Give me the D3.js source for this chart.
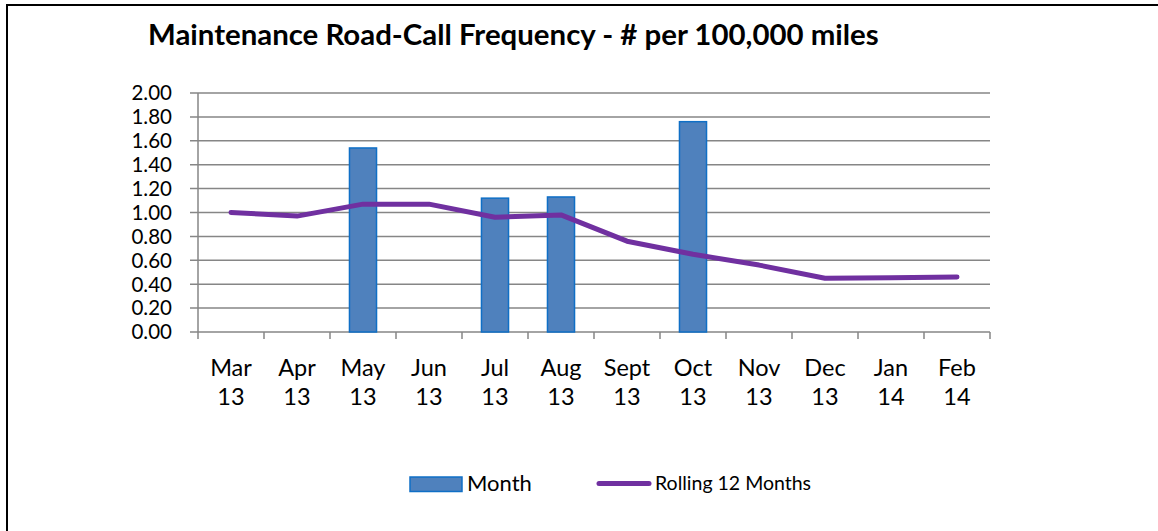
<!DOCTYPE html>
<html>
<head>
<meta charset="utf-8">
<script src="https://cdnjs.cloudflare.com/ajax/libs/d3/7.8.5/d3.min.js"></script>
<style>
  body { margin: 0; background: #fff; }
  svg { display: block; font-family: Lato, "Liberation Sans", sans-serif; }
</style>
</head>
<body>
<svg id="chart"></svg>
<script>
const width = 1158, height = 531;

const months = ['Mar', 'Apr', 'May', 'Jun', 'Jul', 'Aug', 'Sept', 'Oct', 'Nov', 'Dec', 'Jan', 'Feb'];
const years = ['13', '13', '13', '13', '13', '13', '13', '13', '13', '13', '14', '14'];
// null = no bar drawn for that month
const monthValues = [null, null, 1.54, null, 1.12, 1.13, null, 1.76, null, null, null, null];
const rollingValues = [1.00, 0.97, 1.07, 1.07, 0.96, 0.98, 0.76, 0.65, 0.56, 0.45, 0.455, 0.46];
const yTicks = [0, 0.2, 0.4, 0.6, 0.8, 1.0, 1.2, 1.4, 1.6, 1.8, 2.0];

const titleText = 'Maintenance Road-Call Frequency - # per 100,000 miles';

const barColor = '#4f81bd', barStroke = '#0f6fc6', lineColor = '#7030a0', gridColor = '#868686';

let svg = d3.select('#chart')
    .attr('width', width)
    .attr('height', height);

// outer frame (right and bottom fall off the picture)
svg.append('rect')
    .attr('x', 7).attr('y', 5)
    .attr('width', width + 20).attr('height', height + 20)
    .attr('fill', 'none')
    .attr('stroke', '#000')
    .attr('stroke-width', 2);

const plot = {left: 198, right: 990, top: 93, bottom: 332};

const x = d3.scaleBand()
    .domain(d3.range(months.length))
    .range([plot.left, plot.right]);

const y = d3.scaleLinear()
    .domain([0, 2])
    .range([plot.bottom, plot.top]);

// title, fit to its width in the reference
let title = svg.append('text')
    .attr('x', 148).attr('y', 45)
    .attr('font-weight', 'bold')
    .attr('font-size', 25)
    .attr('fill', '#000')
    .text(titleText);
let tw = title.node().getComputedTextLength();
title.attr('font-size', 25 * 731 / tw);

// horizontal gridlines
svg.append('g')
    .selectAll('line')
    .data(yTicks)
    .enter()
    .append('line')
        .attr('x1', plot.left - 8)
        .attr('x2', plot.right)
        .attr('y1', d => y(d))
        .attr('y2', d => y(d))
        .attr('stroke', gridColor)
        .attr('stroke-width', 1.5);

// y axis labels
svg.append('g')
    .selectAll('text')
    .data(yTicks)
    .enter()
    .append('text')
        .attr('x', 172)
        .attr('y', d => y(d))
        .attr('dy', '0.36em')
        .attr('text-anchor', 'end')
        .attr('font-size', 20.5)
        .attr('fill', '#000')
        .text(d => d.toFixed(2));

// y axis line
svg.append('line')
    .attr('x1', plot.left).attr('x2', plot.left)
    .attr('y1', plot.top).attr('y2', plot.bottom)
    .attr('stroke', gridColor).attr('stroke-width', 1.5);

// x tick marks at category boundaries
let boundaries = d3.range(months.length + 1).map(i => i < months.length ? x(i) : x(i - 1) + x.bandwidth());
svg.append('g')
    .selectAll('line')
    .data(boundaries)
    .enter()
    .append('line')
        .attr('x1', d => d).attr('x2', d => d)
        .attr('y1', plot.bottom).attr('y2', plot.bottom + 7)
        .attr('stroke', gridColor)
        .attr('stroke-width', 1.5);

// x labels
let xl = svg.append('g')
    .selectAll('text')
    .data(months)
    .enter()
    .append('text')
        .attr('text-anchor', 'middle')
        .attr('font-size', 23.5)
        .attr('fill', '#000');
xl.append('tspan')
    .attr('x', (d, i) => x(i) + x.bandwidth() / 2)
    .attr('y', 376)
    .text(d => d);
xl.append('tspan')
    .attr('x', (d, i) => x(i) + x.bandwidth() / 2)
    .attr('y', 405)
    .text((d, i) => years[i]);

// bars
const barW = x.bandwidth() * 0.41;
svg.append('g')
    .selectAll('rect')
    .data(monthValues.map((v, i) => ({i: i, v: v})).filter(d => d.v !== null))
    .enter()
    .append('rect')
        .attr('x', d => x(d.i) + (x.bandwidth() - barW) / 2)
        .attr('y', d => y(d.v))
        .attr('width', barW)
        .attr('height', d => y(0) - y(d.v))
        .attr('fill', barColor)
        .attr('stroke', barStroke)
        .attr('stroke-width', 1.5);

// rolling line
let line = d3.line()
    .x((d, i) => x(i) + x.bandwidth() / 2)
    .y(d => y(d));
svg.append('path')
    .datum(rollingValues)
    .attr('d', line)
    .attr('fill', 'none')
    .attr('stroke', lineColor)
    .attr('stroke-width', 5)
    .attr('stroke-linecap', 'round')
    .attr('stroke-linejoin', 'round');

// legend
let legend = svg.append('g');
legend.append('rect')
    .attr('x', 410).attr('y', 477)
    .attr('width', 52).attr('height', 14.5)
    .attr('fill', barColor)
    .attr('stroke', barStroke)
    .attr('stroke-width', 1.5);
legend.append('text')
    .attr('x', 467).attr('y', 491)
    .attr('font-size', 22)
    .attr('fill', '#000')
    .text('Month');
legend.append('line')
    .attr('x1', 599).attr('x2', 649)
    .attr('y1', 483.5).attr('y2', 483.5)
    .attr('stroke', lineColor)
    .attr('stroke-width', 5)
    .attr('stroke-linecap', 'round');
legend.append('text')
    .attr('x', 655).attr('y', 490)
    .attr('font-size', 19.5)
    .attr('fill', '#000')
    .text('Rolling 12 Months');
</script>
</body>
</html>
